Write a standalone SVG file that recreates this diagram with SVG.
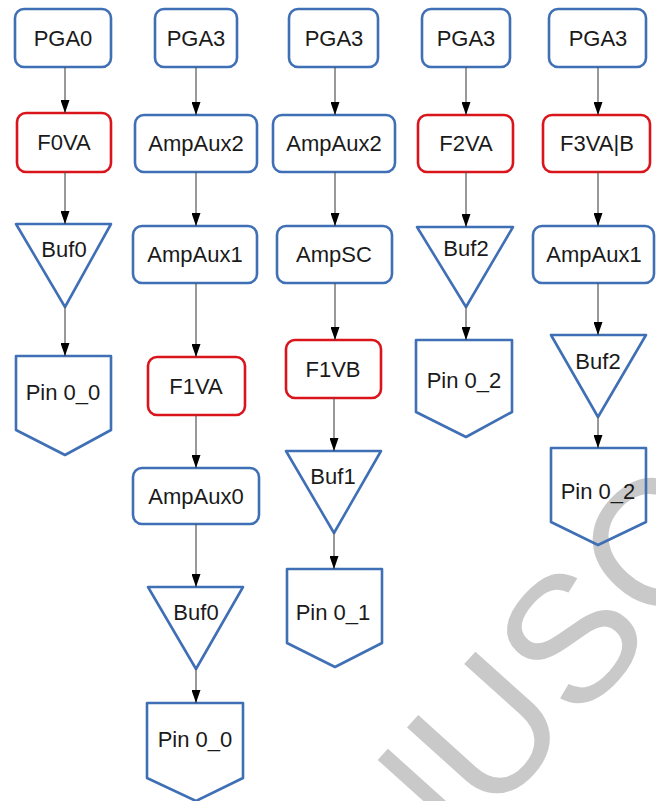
<svg xmlns="http://www.w3.org/2000/svg" width="656" height="801" viewBox="0 0 656 801">
  <style>
    .blk { fill: none; stroke: #3f6fb5; stroke-width: 2.6; stroke-linejoin: round; }
    .flt { fill: none; stroke: #d9141b; stroke-width: 2.6; }
    .lbl { font-family: "Liberation Sans", Arial, sans-serif; font-size: 22px; fill: #1a1a1a; text-anchor: middle; }
    .edge { stroke: #555555; stroke-width: 1.2; fill: none; marker-end: url(#tip); }
    .wm { font-family: "Liberation Sans", Arial, sans-serif; font-size: 180px; fill: #c9c9c9; }
  </style>
  <defs>
    <marker id="tip" viewBox="0 0 13 9" refX="13" refY="4.5" markerWidth="13" markerHeight="9" markerUnits="userSpaceOnUse" orient="auto">
      <path d="M0,0 L13,4.5 L0,9 z" fill="#000000"/>
    </marker>
  </defs>
  <rect x="0" y="0" width="656" height="801" fill="#ffffff"/>

  <!-- background watermark -->
  <text class="wm" transform="translate(222,1118) rotate(-48)">MANUSCRIPT</text>

  <!-- column 1 -->
  <g id="c1-pga0"><rect class="blk" x="15" y="9" width="96" height="58" rx="9"/><text class="lbl" x="63" y="46">PGA0</text></g>
  <g id="c1-f0va"><rect class="flt" x="17" y="113" width="94" height="59" rx="9"/><text class="lbl" x="64" y="150">F0VA</text></g>
  <g id="c1-buf0"><polygon class="blk" points="16,224 111,224 65,307"/><text class="lbl" x="64" y="257">Buf0</text></g>
  <g id="c1-pin00"><polygon class="blk" points="16,356 111,356 111,430 65,455 16,430"/><text class="lbl" x="63" y="400">Pin 0_0</text></g>

  <!-- column 2 -->
  <g id="c2-pga3"><rect class="blk" x="155" y="9" width="82" height="58" rx="9"/><text class="lbl" x="196" y="46">PGA3</text></g>
  <g id="c2-ampaux2"><rect class="blk" x="135" y="115" width="122" height="57" rx="9"/><text class="lbl" x="196" y="151">AmpAux2</text></g>
  <g id="c2-ampaux1"><rect class="blk" x="133" y="226" width="124" height="57" rx="9"/><text class="lbl" x="195" y="262">AmpAux1</text></g>
  <g id="c2-f1va"><rect class="flt" x="148" y="357" width="97" height="58" rx="9"/><text class="lbl" x="196" y="394">F1VA</text></g>
  <g id="c2-ampaux0"><rect class="blk" x="133" y="468" width="126" height="56" rx="9"/><text class="lbl" x="196" y="504">AmpAux0</text></g>
  <g id="c2-buf0"><polygon class="blk" points="148,587 243,587 196,669"/><text class="lbl" x="196" y="620">Buf0</text></g>
  <g id="c2-pin00"><polygon class="blk" points="147,703 243,703 243,778 196,801 147,778"/><text class="lbl" x="195" y="747">Pin 0_0</text></g>

  <!-- column 3 -->
  <g id="c3-pga3"><rect class="blk" x="289" y="9" width="89" height="58" rx="9"/><text class="lbl" x="334" y="46">PGA3</text></g>
  <g id="c3-ampaux2"><rect class="blk" x="273" y="115" width="122" height="57" rx="9"/><text class="lbl" x="334" y="151">AmpAux2</text></g>
  <g id="c3-ampsc"><rect class="blk" x="277" y="226" width="115" height="57" rx="9"/><text class="lbl" x="334" y="262">AmpSC</text></g>
  <g id="c3-f1vb"><rect class="flt" x="286" y="340" width="95" height="58" rx="9"/><text class="lbl" x="333" y="377">F1VB</text></g>
  <g id="c3-buf1"><polygon class="blk" points="286,451 381,451 334,533"/><text class="lbl" x="333" y="484">Buf1</text></g>
  <g id="c3-pin01"><polygon class="blk" points="287,569 382,569 382,643 335,667 287,643"/><text class="lbl" x="333" y="620">Pin 0_1</text></g>

  <!-- column 4 -->
  <g id="c4-pga3"><rect class="blk" x="422" y="9" width="88" height="58" rx="9"/><text class="lbl" x="466" y="46">PGA3</text></g>
  <g id="c4-f2va"><rect class="flt" x="418" y="115" width="95" height="57" rx="9"/><text class="lbl" x="466" y="151">F2VA</text></g>
  <g id="c4-buf2"><polygon class="blk" points="417,227 513,227 466,307"/><text class="lbl" x="466" y="256">Buf2</text></g>
  <g id="c4-pin02"><polygon class="blk" points="416,340 512,340 512,412 466,437 416,412"/><text class="lbl" x="464" y="388">Pin 0_2</text></g>

  <!-- column 5 -->
  <g id="c5-pga3"><rect class="blk" x="549" y="9" width="97" height="58" rx="9"/><text class="lbl" x="598" y="46">PGA3</text></g>
  <g id="c5-f3vab"><rect class="flt" x="543" y="115" width="107" height="57" rx="9"/><text class="lbl" x="597" y="151">F3VA|B</text></g>
  <g id="c5-ampaux1"><rect class="blk" x="533" y="226" width="121" height="57" rx="9"/><text class="lbl" x="594" y="262">AmpAux1</text></g>
  <g id="c5-buf2"><polygon class="blk" points="551,335 646,335 598,417"/><text class="lbl" x="598" y="369">Buf2</text></g>
  <g id="c5-pin02"><polygon class="blk" points="551,448 646,448 646,522 598,545 551,522"/><text class="lbl" x="598" y="499">Pin 0_2</text></g>

  <!-- connectors -->
  <g id="connectors">
    <line class="edge" x1="65" y1="67" x2="65" y2="113"/>
    <line class="edge" x1="65" y1="172" x2="65" y2="224"/>
    <line class="edge" x1="65" y1="307" x2="65" y2="356"/>

    <line class="edge" x1="196" y1="67" x2="196" y2="115"/>
    <line class="edge" x1="196" y1="172" x2="196" y2="226"/>
    <line class="edge" x1="196" y1="283" x2="196" y2="357"/>
    <line class="edge" x1="196" y1="415" x2="196" y2="468"/>
    <line class="edge" x1="196" y1="524" x2="196" y2="587"/>
    <line class="edge" x1="196" y1="669" x2="196" y2="703"/>

    <line class="edge" x1="335" y1="67" x2="335" y2="115"/>
    <line class="edge" x1="335" y1="172" x2="335" y2="226"/>
    <line class="edge" x1="335" y1="283" x2="335" y2="340"/>
    <line class="edge" x1="334" y1="398" x2="334" y2="451"/>
    <line class="edge" x1="334" y1="533" x2="334" y2="569"/>

    <line class="edge" x1="466" y1="67" x2="466" y2="115"/>
    <line class="edge" x1="466" y1="172" x2="466" y2="227"/>
    <line class="edge" x1="466" y1="307" x2="466" y2="340"/>

    <line class="edge" x1="598" y1="67" x2="598" y2="115"/>
    <line class="edge" x1="598" y1="172" x2="598" y2="226"/>
    <line class="edge" x1="598" y1="283" x2="598" y2="335"/>
    <line class="edge" x1="598" y1="417" x2="598" y2="448"/>
  </g>
</svg>
